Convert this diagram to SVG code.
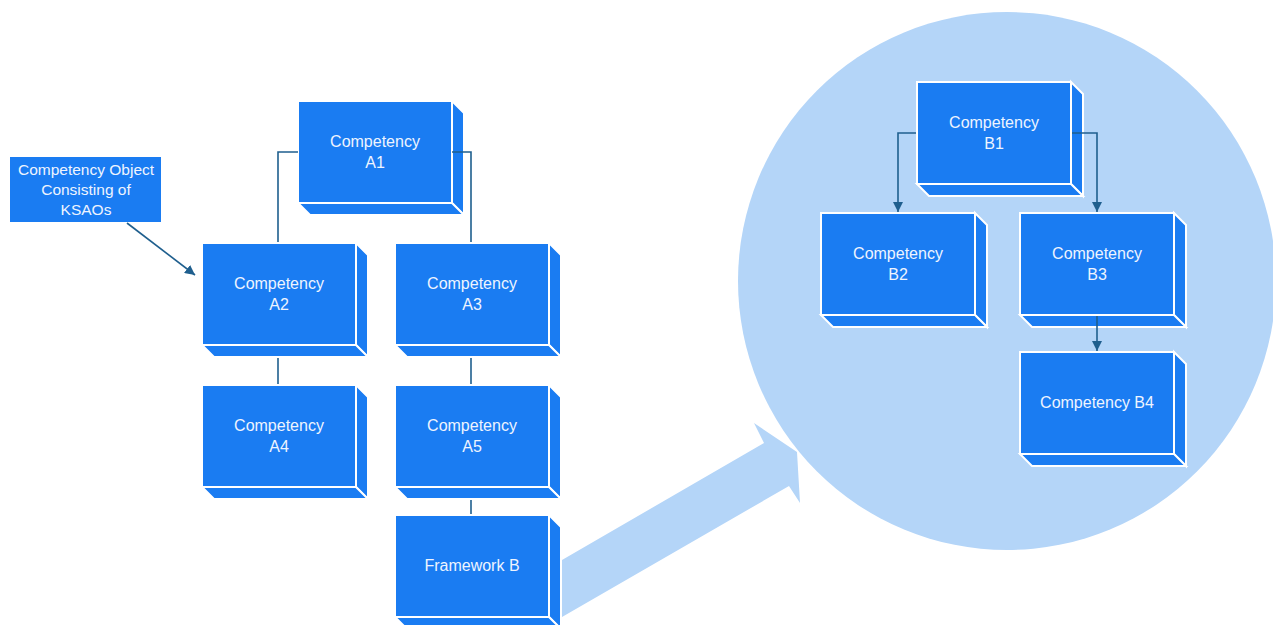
<svg xmlns="http://www.w3.org/2000/svg" xmlns:xlink="http://www.w3.org/1999/xlink" width="1273" height="625" viewBox="0 0 1273 625">
  <style>
    .face { fill: #1a7cf2; stroke: #ffffff; stroke-width: 2; stroke-linejoin: miter; }
    .lbl { font-family: "Liberation Sans", Arial, sans-serif; font-size: 16px; fill: #eef4ff; text-anchor: middle; }
    .note { font-family: "Liberation Sans", Arial, sans-serif; font-size: 15.5px; fill: #eef4ff; text-anchor: middle; }
    .wire { fill: none; stroke: #1f5f8e; stroke-width: 1.6; }
    .wire-arrow { fill: none; stroke: #1f5f8e; stroke-width: 1.6; marker-end: url(#head); }
  </style>
  <defs>
    <marker id="head" viewBox="0 0 10 10" refX="10" refY="5" markerWidth="10" markerHeight="10" markerUnits="userSpaceOnUse" orient="auto">
      <path d="M0,0 L10,5 L0,10 Z" fill="#1f5f8e"/>
    </marker>
    <!-- extruded block: front face 154x102, depth 12 -->
    <g id="block">
      <path class="face" d="M154,0 L166,12 L166,114 L154,102 Z"/>
      <path class="face" d="M0,102 L154,102 L166,114 L12,114 Z"/>
      <rect class="face" x="0" y="0" width="154" height="102"/>
    </g>
  </defs>

  <rect width="1273" height="625" fill="#ffffff"/>

  <!-- zoom-in backdrop and pointer -->
  <circle cx="1007" cy="281" r="269" fill="#b4d5f8"/>
  <polygon points="562,560 764,443 754,423 797,452 800,503 789,486 562,617" fill="#b4d5f8"/>

  <g id="ksao-note">
    <rect x="10" y="157" width="151" height="65" fill="#1a7cf2"/>
    <text class="note" x="86" y="175">Competency Object</text>
    <text class="note" x="86" y="195">Consisting of</text>
    <text class="note" x="86" y="215">KSAOs</text>
  </g>

  <g id="comp-a1" transform="translate(298,101)">
    <use xlink:href="#block"/>
    <text class="lbl" x="77" y="46">Competency</text>
    <text class="lbl" x="77" y="67">A1</text>
  </g>
  <g id="comp-a2" transform="translate(202,243)">
    <use xlink:href="#block"/>
    <text class="lbl" x="77" y="46">Competency</text>
    <text class="lbl" x="77" y="67">A2</text>
  </g>
  <g id="comp-a3" transform="translate(395,243)">
    <use xlink:href="#block"/>
    <text class="lbl" x="77" y="46">Competency</text>
    <text class="lbl" x="77" y="67">A3</text>
  </g>
  <g id="comp-a4" transform="translate(202,385)">
    <use xlink:href="#block"/>
    <text class="lbl" x="77" y="46">Competency</text>
    <text class="lbl" x="77" y="67">A4</text>
  </g>
  <g id="comp-a5" transform="translate(395,385)">
    <use xlink:href="#block"/>
    <text class="lbl" x="77" y="46">Competency</text>
    <text class="lbl" x="77" y="67">A5</text>
  </g>
  <g id="framework-b" transform="translate(395,515)">
    <use xlink:href="#block"/>
    <text class="lbl" x="77" y="56">Framework B</text>
  </g>

  <g id="comp-b1" transform="translate(917,82)">
    <use xlink:href="#block"/>
    <text class="lbl" x="77" y="46">Competency</text>
    <text class="lbl" x="77" y="67">B1</text>
  </g>
  <g id="comp-b2" transform="translate(821,213)">
    <use xlink:href="#block"/>
    <text class="lbl" x="77" y="46">Competency</text>
    <text class="lbl" x="77" y="67">B2</text>
  </g>
  <g id="comp-b3" transform="translate(1020,213)">
    <use xlink:href="#block"/>
    <text class="lbl" x="77" y="46">Competency</text>
    <text class="lbl" x="77" y="67">B3</text>
  </g>
  <g id="comp-b4" transform="translate(1020,352)">
    <use xlink:href="#block"/>
    <text class="lbl" x="77" y="56">Competency B4</text>
  </g>

  <!-- connectors, drawn over the block side faces -->
  <g id="connectors">
    <polyline class="wire" points="298,152 278,152 278,242"/>
    <polyline class="wire" points="452,152 471,152 471,242"/>
    <line class="wire" x1="278" y1="358" x2="278" y2="384"/>
    <line class="wire" x1="471" y1="358" x2="471" y2="384"/>
    <line class="wire" x1="471" y1="500" x2="471" y2="514"/>
    <line class="wire-arrow" x1="127" y1="223" x2="195" y2="275"/>
    <polyline class="wire-arrow" points="916,133 898,133 898,212"/>
    <polyline class="wire-arrow" points="1072,133 1097,133 1097,212"/>
    <line class="wire-arrow" x1="1097" y1="316" x2="1097" y2="351"/>
  </g>
</svg>
